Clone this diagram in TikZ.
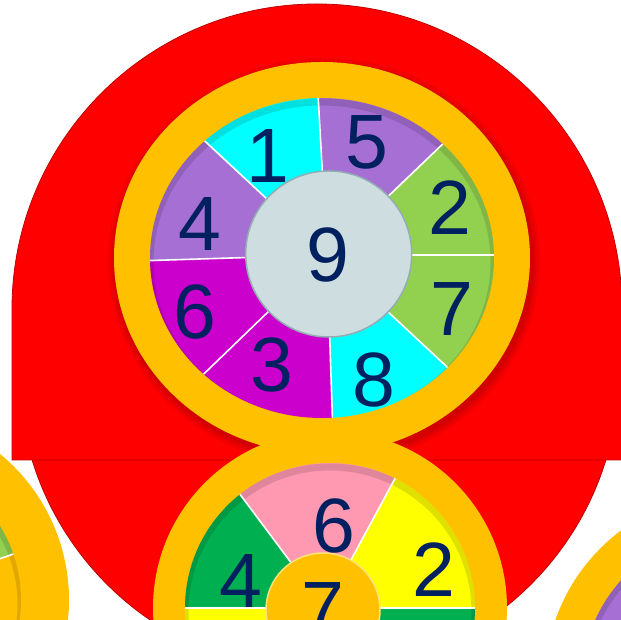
\documentclass[tikz,border=0pt]{standalone}
\usepackage{fontspec}
\setmainfont{Liberation Sans}
\definecolor{redA}{HTML}{FF0000}
\definecolor{redD}{HTML}{C00000}
\definecolor{ringY}{HTML}{FFC000}
\definecolor{lightY}{HTML}{FFE27A}
\definecolor{cyanS}{HTML}{00FFFF}
\definecolor{lav}{HTML}{A66FD3}
\definecolor{lgreen}{HTML}{92D050}
\definecolor{mag}{HTML}{CC00CC}
\definecolor{grayC}{HTML}{CEDEE0}
\definecolor{grayB}{HTML}{93AEB3}
\definecolor{pinkS}{HTML}{FF99B2}
\definecolor{yel}{HTML}{FFFF00}
\definecolor{grn}{HTML}{00B050}
\definecolor{navy}{HTML}{002060}
\begin{document}
\begin{tikzpicture}[x=1pt,y=1pt,
  num/.style={text=navy, font=\fontsize{77}{80}\selectfont, inner sep=0pt},
  divider/.style={white, line width=1.6pt},
  rimshade/.style={black, opacity=0.12, line width=7pt},
  redshape/.style={fill=redA, draw=redD, line width=0.8pt}]
\useasboundingbox (0,0) rectangle (621,620);
\clip (0,0) rectangle (621,620);
% red background shapes
\path[redshape] (319,248) circle[radius=300];
\path[redshape] (12,160) -- (12,311) arc[start angle=180,end angle=0,radius=305] -- (622,160) -- cycle;
% shadow of upper ring
\foreach \s/\o in {8/0.05,5/0.06,2/0.07}
  \fill[black, opacity=\o] (324,358) ellipse[x radius={208+\s}, y radius={196+\s}];
% rings
\fill[ringY] (330,12) circle[radius=177];
\fill[ringY] (322,362) ellipse[x radius=208, y radius=196];
% upper wheel
\begin{scope}
  \clip (322,362) ellipse[x radius=172, y radius=160];
  \foreach \a/\b/\c in {93.2/137/cyanS, 43.8/93.2/lav, 0/43.8/lgreen, -43/0/lgreen,
                        -88.1/-43/cyanS, -136/-88.1/mag, -178.2/-136/mag, 137/181.8/lav}
    \fill[\c] (327,365) -- ++(\a:260) arc[start angle=\a, end angle=\b, radius=260] -- cycle;
  \draw[rimshade] (322,358) ellipse[x radius=172, y radius=160];
  \foreach \a in {93.2,43.8,0,-43,-88.1,-136,-178.2,137}
    \draw[divider] (327,365) -- ++(\a:260);
\end{scope}
\filldraw[fill=grayC, draw=grayB, line width=1.5pt] (328.7,366) circle[radius=83];
% lower wheel
\begin{scope}
  \clip (330,12) circle[radius=145];
  \foreach \a/\b/\c in {0/61.6/yel, 61.6/126.8/pinkS, 126.8/180/grn, 180/240/yel, 240/300/pinkS, 300/360/grn}
    \fill[\c] (325,12) -- ++(\a:220) arc[start angle=\a, end angle=\b, radius=220] -- cycle;
  \draw[rimshade] (330,8) circle[radius=145];
  \foreach \a in {0,61.6,126.8,180,240,300}
    \draw[divider] (325,12) -- ++(\a:220);
\end{scope}
\filldraw[fill=ringY, draw=lightY, line width=1.5pt] (323,10) circle[radius=57];
% left partial wheel
\fill[ringY] (-120,20) circle[radius=189];
\begin{scope}
  \clip (-120,20) circle[radius=141];
  \fill[lgreen] (-120,20) -- ++(19:220) arc[start angle=19, end angle=80, radius=220] -- cycle;
  \fill[ringY] (-120,20) -- ++(-41:220) arc[start angle=-41, end angle=19, radius=220] -- cycle;
  \draw[rimshade] (-120,16) circle[radius=141];
  \draw[divider] (-120,20) -- ++(19:220);
\end{scope}
% right partial wheel
\fill[ringY] (734,-62) circle[radius=189];
\begin{scope}
  \clip (734,-62) circle[radius=152];
  \fill[lav] (734,-62) circle[radius=152];
  \draw[rimshade] (734,-66) circle[radius=152];
\end{scope}
% labels upper wheel
\node[num] (u1) at (268,464.3) {1};
\node[num] (u5) at (366.7,477.7) {5};
\node[num] (u2) at (450,412) {2};
\node[num] (u4) at (200,396) {4};
\node[num] (u9) at (328.3,365) {9};
\node[num] (u6) at (195.3,308.3) {6};
\node[num] (u7) at (452.3,311) {7};
\node[num] (u3) at (272.3,255) {3};
\node[num] (u8) at (374,240) {8};
% labels lower wheel
\node[num] (l4) at (240.8,39.2) {4};
\node[num] (l6) at (334,94.3) {6};
\node[num] (l2) at (434,50) {2};
\node[num] (l7) at (323,11) {7};
\end{tikzpicture}
\end{document}
